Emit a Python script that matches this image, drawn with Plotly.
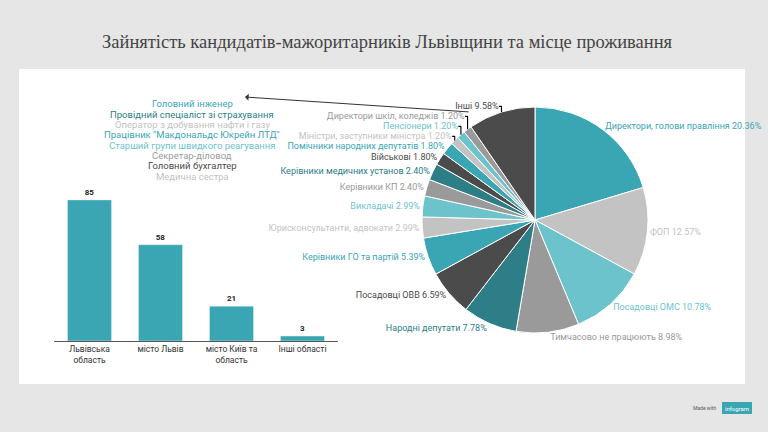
import plotly.graph_objs as go

# --- data -------------------------------------------------------------
regions = ["Львівська<br>область", "місто Львів", "місто Київ та<br>область", "Інші області"]
region_counts = [85, 58, 21, 3]

jobs = [
    "Директори, голови правління",
    "ФОП",
    "Посадовці ОМС",
    "Тимчасово не працюють",
    "Народні депутати",
    "Посадовці ОВВ",
    "Керівники ГО та партій",
    "Юрисконсультанти, адвокати",
    "Викладачі",
    "Керівники КП",
    "Керівники медичних установ",
    "Військові",
    "Помічники народних депутатів",
    "Міністри, заступники міністра",
    "Пенсіонери",
    "Директори шкіл, коледжів",
    "Інші",
]
job_shares = [20.36, 12.57, 10.78, 8.98, 7.78, 6.59, 5.39, 2.99, 2.99,
              2.40, 2.40, 1.80, 1.80, 1.20, 1.20, 1.20, 9.58]

other_jobs = [
    "Головний інженер",
    "Провідний спеціаліст зі страхування",
    "Оператор з добування нафти і газу",
    'Працівник "Макдональдс Юкрейн ЛТД"',
    "Старший групи швидкого реагування",
    "Секретар-діловод",
    "Головний бухгалтер",
    "Медична сестра",
]

# --- style ------------------------------------------------------------
TEAL = "#3aa6b4"
LGRAY = "#c3c3c3"
LTEAL = "#6cc3cb"
GRAY = "#9a9a9a"
DTEAL = "#2d7e87"
DGRAY = "#4b4b4b"
cycle = [TEAL, LGRAY, LTEAL, GRAY, DTEAL, DGRAY]
slice_colors = [cycle[i % 6] for i in range(len(jobs) - 1)] + [DGRAY]
other_colors = [TEAL, DTEAL, LGRAY, TEAL, LTEAL, GRAY, DGRAY, LGRAY]

FONT = "Roboto, Lato, sans-serif"
W, H = 768, 432


def px_x(x):
    return x / W


def px_y(y):
    return 1 - y / H


fig = go.Figure()

fig.add_trace(
    go.Bar(
        x=regions,
        y=region_counts,
        marker_color=TEAL,
        text=[f"<b>{v}</b>" for v in region_counts],
        textposition="outside",
        textfont=dict(size=8, color="#222", family=FONT),
        cliponaxis=False,
        showlegend=False,
        hoverinfo="skip",
    )
)

fig.add_trace(
    go.Pie(
        labels=jobs,
        values=job_shares,
        text=[f"{j} {v:.2f}%" for j, v in zip(jobs, job_shares)],
        textinfo="text",
        textposition="outside",
        textfont=dict(size=9, color=slice_colors, family=FONT),
        marker=dict(colors=slice_colors, line=dict(color="white", width=1)),
        sort=False,
        direction="clockwise",
        rotation=0,
        domain=dict(x=[px_x(422), px_x(648)], y=[px_y(333), px_y(107)]),
        showlegend=False,
        hoverinfo="skip",
    )
)

fig.update_layout(
    width=W,
    height=H,
    margin=dict(l=0, r=0, t=0, b=0),
    paper_bgcolor="#e6e6e6",
    plot_bgcolor="rgba(0,0,0,0)",
    bargap=0.38,
    font=dict(family=FONT, color="#333"),
    xaxis=dict(
        domain=[px_x(54), px_x(338)],
        showline=True,
        linecolor="#555",
        linewidth=1,
        showgrid=False,
        ticks="",
        tickfont=dict(size=8.5, color="#333", family=FONT),
        fixedrange=True,
    ),
    yaxis=dict(
        domain=[px_y(341), px_y(175)],
        range=[0, 100],
        visible=False,
        fixedrange=True,
    ),
    shapes=[
        dict(
            type="rect", xref="paper", yref="paper", layer="below",
            x0=px_x(19), x1=px_x(745), y0=px_y(384), y1=px_y(69),
            fillcolor="white", line_width=0,
        ),
        dict(
            type="rect", xref="paper", yref="paper",
            x0=px_x(722), x1=px_x(752), y0=px_y(414), y1=px_y(402),
            fillcolor=TEAL, line_width=0,
        ),
    ],
)

fig.add_annotation(
    text="Зайнятість кандидатів-мажоритарників Львівщини та місце проживання",
    x=0.505, y=px_y(42), xref="paper", yref="paper", showarrow=False,
    xanchor="center", yanchor="middle",
    font=dict(family="Liberation Serif, DejaVu Serif, serif", size=18.5, color="#444"),
)

for i, (name, col) in enumerate(zip(other_jobs, other_colors)):
    fig.add_annotation(
        text=name, x=px_x(192), y=px_y(104 + i * 10.3), xref="paper", yref="paper",
        xanchor="center", yanchor="middle", showarrow=False,
        font=dict(size=9.5, color=col, family=FONT),
    )

fig.add_annotation(
    x=px_x(245), y=px_y(97), xref="paper", yref="paper", text="",
    showarrow=True, ax=225, ay=15, arrowhead=1, arrowsize=1.2,
    arrowwidth=1, arrowcolor="#333",
)

fig.add_annotation(
    text="Made with", x=px_x(718), y=px_y(408), xref="paper", yref="paper",
    xanchor="right", yanchor="middle", showarrow=False,
    font=dict(size=5, color="#555", family=FONT),
)
fig.add_annotation(
    text="infogram", x=px_x(737), y=px_y(408), xref="paper", yref="paper",
    xanchor="center", yanchor="middle", showarrow=False,
    font=dict(size=6, color="white", family=FONT),
)

fig.write_html(
    "out.html",
    config={"displayModeBar": False},
    post_script="document.body.style.margin='0';document.body.style.overflow='hidden';",
)
